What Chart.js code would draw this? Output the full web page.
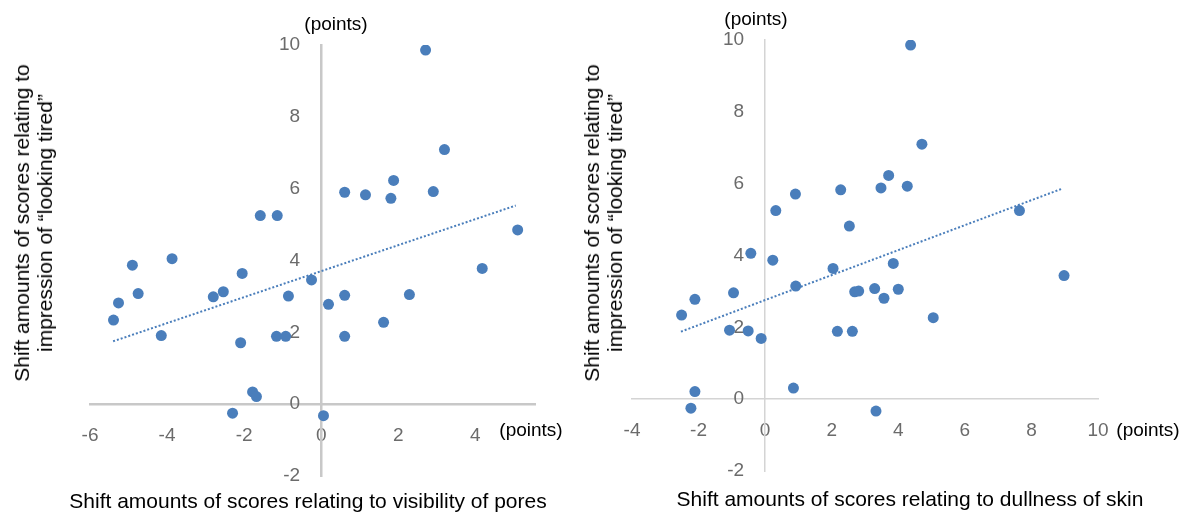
<!DOCTYPE html>
<html>
<head>
<meta charset="utf-8">
<script src="https://cdn.jsdelivr.net/npm/chart.js@4.4.1/dist/chart.umd.min.js"></script>
<style>
    body { margin: 0; background: #fff; font-family: "Liberation Sans", Arial, sans-serif; }
    #wrap { position: relative; width: 1182px; height: 514px; overflow: hidden; }
    .box { position: absolute; top: 0; width: 591px; height: 514px; }
    .ytitle { position: absolute; transform: translate(-50%, -50%) rotate(-90deg); font-size: 21px; line-height: 23px; text-align: center; white-space: nowrap; }
    .xtitle { position: absolute; transform: translate(-50%, -50%); font-size: 21px; white-space: nowrap; }
    .unit { position: absolute; transform: translate(-50%, -50%); font-size: 19px; white-space: nowrap; }
</style>
</head>
<body>
<div id="wrap">
    <div class="box" style="left:0"><canvas id="chartPores" width="591" height="514"></canvas></div>
    <div class="box" style="left:591px"><canvas id="chartDull" width="591" height="514"></canvas></div>

    <div class="ytitle" style="left:33px; top:223px">Shift amounts of scores relating to<br>impression of “looking tired”</div>
    <div class="unit" style="left:336px; top:24px">(points)</div>
    <div class="unit" style="left:531px; top:430px">(points)</div>
    <div class="xtitle" style="left:308px; top:501px">Shift amounts of scores relating to visibility of pores</div>

    <div class="ytitle" style="left:603px; top:223px">Shift amounts of scores relating to<br>impression of “looking tired”</div>
    <div class="unit" style="left:756px; top:19px">(points)</div>
    <div class="unit" style="left:1148px; top:430px">(points)</div>
    <div class="xtitle" style="left:910px; top:499px">Shift amounts of scores relating to dullness of skin</div>
</div>

<script>
// left chart: visibility of pores vs looking tired
var poresX = [2.71, 3.2, 1.88, 0.61, 1.15, 1.81, 2.91, -1.58, -1.14, 5.1, 4.18, -3.87, -4.9, -2.05, -0.25, -2.54, -2.8,
    -4.75, -5.26, -0.85, 0.61, 2.29, 0.19, -5.39, 1.62, -4.15, -1.16, -0.92, 0.61, -2.09, -1.78, -1.68, -2.3, 0.06];
var poresY = [9.86, 7.09, 6.23, 5.9, 5.83, 5.73, 5.92, 5.25, 5.25, 4.85, 3.78, 4.05, 3.87, 3.64, 3.46, 3.13, 2.99,
    3.08, 2.82, 3.01, 3.03, 3.05, 2.78, 2.34, 2.28, 1.91, 1.89, 1.89, 1.89, 1.71, 0.34, 0.21, -0.25, -0.32];
var poresTrendX = [-5.4, 5.05];
var poresTrendY = [1.75, 5.53];

// right chart: dullness of skin vs looking tired
var dullX = [4.37, 4.71, 3.71, 2.27, 3.48, 4.27, 0.91, 0.32, 2.53, 7.64, -0.43, 0.23, 2.04, 3.85, 8.98, 0.92, -0.95,
    -2.11, 2.69, 2.81, 3.29, 4.0, 3.57, -2.51, 5.05, -1.07, -0.51, -0.12, 2.17, 2.62, 0.85, -2.11, -2.23, 3.33];
var dullY = [9.86, 7.1, 6.23, 5.83, 5.88, 5.93, 5.71, 5.25, 4.82, 5.25, 4.06, 3.87, 3.64, 3.78, 3.44, 3.15, 2.96,
    2.78, 2.99, 3.01, 3.08, 3.06, 2.81, 2.34, 2.27, 1.92, 1.9, 1.69, 1.89, 1.89, 0.31, 0.21, -0.25, -0.33];
var dullTrendX = [-2.53, 8.92];
var dullTrendY = [1.88, 5.86];

var yTicks = { min: -2, max: 10, step: 2 };
var corDot = "#4a7ebb";

Chart.defaults.font.family = "'Liberation Sans', Arial, sans-serif";

function montarPontos(xs, ys) {
    return xs.map(function (x, i) { return { x: x, y: ys[i] }; });
}

function criarGrafico(canvasId, xs, ys, tx, ty, xMin, xMax, padding, corEixo, larguraEixo) {
    var ctx = document.getElementById(canvasId).getContext("2d");

    return new Chart(ctx, {
        type: "scatter",
        data: {
            datasets: [
                {
                    data: montarPontos(xs, ys),
                    backgroundColor: corDot,
                    borderWidth: 0,
                    pointRadius: 5.5,
                    order: 1
                },
                {
                    type: "line",
                    data: montarPontos(tx, ty),
                    borderColor: corDot,
                    borderWidth: 2,
                    borderDash: [2, 2],
                    pointRadius: 0,
                    fill: false,
                    order: 2
                }
            ]
        },
        options: {
            responsive: false,
            animation: false,
            devicePixelRatio: 1,
            layout: { padding: padding },
            plugins: {
                legend: { display: false },
                tooltip: { enabled: false }
            },
            scales: {
                x: {
                    type: "linear",
                    position: { y: 0 },
                    min: xMin,
                    max: xMax,
                    grid: { display: false, drawTicks: false },
                    border: { display: true, color: corEixo, width: larguraEixo },
                    ticks: {
                        stepSize: 2,
                        includeBounds: false,
                        autoSkip: false,
                        maxRotation: 0,
                        padding: 20,
                        color: "#6b6b6b",
                        font: { size: 19 }
                    }
                },
                y: {
                    type: "linear",
                    position: { x: 0 },
                    min: yTicks.min,
                    max: yTicks.max,
                    grid: { display: false, drawTicks: false },
                    border: { display: true, color: corEixo, width: larguraEixo },
                    ticks: {
                        stepSize: yTicks.step,
                        autoSkip: false,
                        color: "#6b6b6b",
                        font: { size: 19 },
                        // labels sit right on the axis, so push them left with spaces
                        callback: function (v) { return v + "    "; }
                    }
                }
            }
        }
    });
}

criarGrafico("chartPores", poresX, poresY, poresTrendX, poresTrendY, -6, 5.55,
    { left: 90, right: 56, top: 45, bottom: 38 }, "#c8c8c8", 2.5);
criarGrafico("chartDull", dullX, dullY, dullTrendX, dullTrendY, -4, 10,
    { left: 41, right: 84, top: 40, bottom: 43 }, "#d4d4d4", 1.5);
</script>
</body>
</html>
